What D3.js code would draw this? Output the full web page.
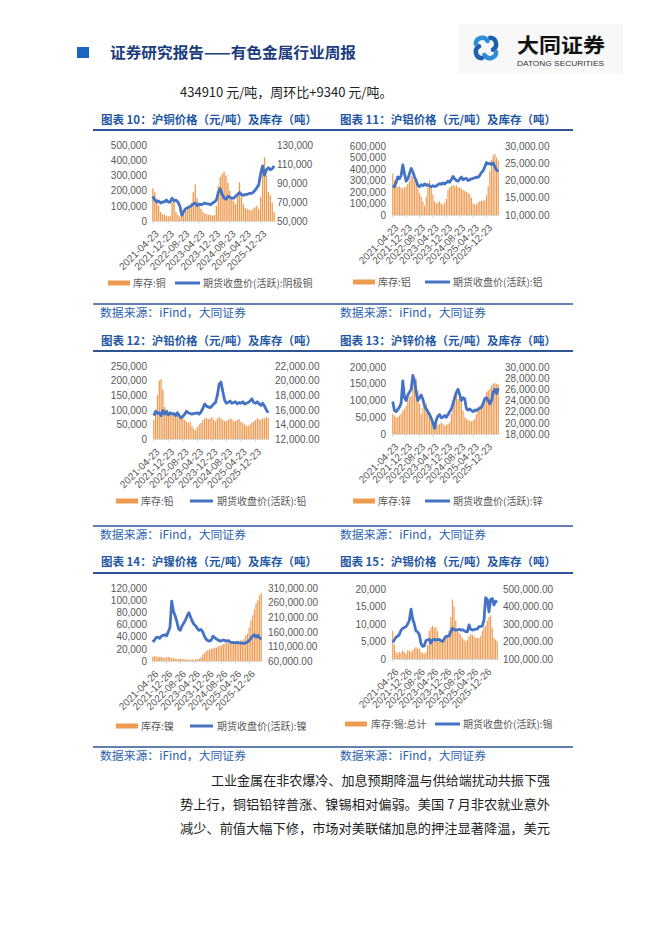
<!DOCTYPE html>
<html><head><meta charset="utf-8">
<script src="https://cdn.jsdelivr.net/npm/d3@7"></script>
<style>
body{margin:0;background:#fff;}
svg{display:block;font-family:"Noto Sans CJK SC","Noto Sans",sans-serif;}
</style></head><body>
<script>
// ---------- DATA ----------
const xLabelsA = ["2021-04-23","2021-12-23","2022-08-23","2023-04-23","2023-12-23","2024-08-23","2025-04-23","2025-12-23"];
const xLabelsB = ["2021-04-26","2021-12-26","2022-08-26","2023-04-26","2023-12-26","2024-08-26","2025-04-26","2025-12-26"];
const xTickIdx = [0,8,16,24,32,40,48,56];

// inventory in thousand tonnes, price in thousand yuan/tonne
const cuInv = [215,190,150,100,60,45,40,35,30,35, 120,130,60,40,30,30,45,70,80,100, 120,190,240,150,110,80,60,50,45,40, 40,35,40,100,230,290,310,325,300,250, 200,150,130,110,180,255,180,110,85,80, 75,70,80,90,100,80,160,330,420,300, 190,170,120,60];
const cuPrice = [76,72,70,71,69,70,70,72,70,70, 74,71,72,70,66,56,60,63,64,65, 66,68,69,66,68,67,68,69,68,68, 67,69,70,72,80,84,78,74,73,76, 75,74,74,76,78,80,78,77,78,78, 79,79,80,82,85,88,100,108,98,104, 106,104,105,108];
const cuInvTicks = [0,100,200,300,400,500];
const cuPriceTicks = [50,70,90,110,130];

const alInv = [360,300,250,240,250,240,230,240,250,270, 300,340,330,300,270,230,190,160,120,80, 160,260,300,260,180,120,100,110,120,100, 90,110,140,220,240,250,260,250,260,240, 240,230,220,210,200,190,180,150,100,90, 95,110,120,125,120,130,170,250,380,480, 520,530,500,470];
const alPrice = [18.5,18.2,19.5,21,20.5,21.5,24.5,22,19.8,20.5, 22,23.5,22.5,21,20,18.5,18.2,18.8,18.5,19, 18.6,18.8,18.4,18.2,18.5,18.3,18.4,18.8,19.1,18.9, 19.3,19,19.4,19.8,19.5,20.3,21.2,20.5,20.0,19.8, 20.4,21.0,20.2,20.5,20.6,20.0,20.2,20.5,20.6,20.8, 21.0,20.9,21.5,22.3,22.8,24.0,25.2,24.8,25.0,24.6, 25.1,24.0,23.0,22.6];
const alInvTicks = [0,100,200,300,400,500,600];
const alPriceTicks = [10,15,20,25,30];

const pbInv = [65,90,150,200,205,170,110,95,90,85, 80,85,80,78,75,72,70,65,60,55, 60,45,35,30,40,50,55,65,70,72, 68,70,75,65,60,70,75,70,65,62, 60,65,70,68,60,62,65,68,60,55, 50,45,45,50,55,60,65,70,68,65, 72,70,75,72];
const pbPrice = [15.2,15.8,15.5,15.6,15.2,15.9,15.4,15.8,15.3,15.6, 15.4,15.5,15.2,15.6,15.2,14.9,15.1,15.4,15.8,15.6, 15.5,15.4,15.5,15.5,15.6,15.4,15.7,16.2,16.8,16.5, 16.4,16.3,16.5,16.8,17.0,18.0,19.5,19.8,18.5,17.3, 16.9,17.0,17.2,16.9,17.0,17.1,16.8,17.0,16.9,17.1, 16.8,16.9,17.0,17.2,17.5,17.0,16.9,17.1,16.8,16.6, 16.9,16.5,16.0,15.6];
const pbInvTicks = [0,50,100,150,200,250];
const pbPriceTicks = [12,14,16,18,20,22];

const znInv = [60,55,50,50,55,60,70,75,85,100, 110,115,150,170,165,130,90,60,80,95, 90,70,50,40,35,30,25,28,30,35, 30,25,28,30,35,60,90,110,115,105, 110,95,70,50,45,42,40,38,40,45, 60,75,85,90,95,110,125,130,135,145, 150,152,150,148];
const znPrice = [23.8,22.2,22.0,22.4,22.8,23.5,27.5,24.5,24.0,25.0, 25.5,26.0,28.5,27.5,25.5,24.0,24.5,25.0,24.2,23.0, 22.5,22.0,21.5,20.8,20.0,19.0,20.5,21.2,21.5,20.9, 21.0,21.3,21.0,21.5,22.0,22.5,23.5,24.5,25.5,26.0, 25.0,24.0,24.5,24.3,22.5,22.3,22.5,22.2,22.0,22.3, 22.2,22.5,22.6,22.8,23.5,24.3,24.5,24.0,23.4,24.0, 25.5,26.0,25.2,26.2];
const znInvTicks = [0,50,100,150,200];
const znPriceTicks = [18,20,22,24,26,28,30];

const niInv = [7,8,7,7.5,6,7,6,5.5,6,7, 6,5,4.5,4,3.5,3,4,3.5,3,2.5, 3,2,2,2.5,2,3,3,4,6,10, 13,16,18,19,20,21,22,22,24,25, 26,28,29,30,29,30,31,30,32,33, 32,34,33,36,42,45,55,67,75,85, 95,100,108,112];
const niPrice = [125,132,140,142,138,145,148,150,146,160, 175,265,230,215,195,170,165,180,190,200, 215,225,210,195,185,180,170,165,168,160, 145,135,130,128,132,145,140,135,132,128, 130,132,130,128,130,125,124,123,122,124, 122,121,122,120,122,125,130,138,145,150, 142,148,140,135];
const niInvTicks = [0,20,40,60,80,100,120];
const niPriceTicks = [60,110,160,210,260,310];

const snInv = [8,4,2,1.5,2,1.8,2.5,2,1.5,2.5, 2.5,2,2.5,3,3.5,3,3,2,1.8,1.5, 2,4,8,9,9.5,9,9,8,6,5, 5,5.5,6,7,8,12,17,15,11,8, 7.5,7,6,5.5,5,5.5,6.5,7,7,6.5, 6,6,6,6.5,8,9,9.5,11,12,12.5, 9,6,5.5,5];
const snPrice = [195,210,225,230,240,265,275,280,285,300, 320,385,330,300,260,255,240,190,172,175, 205,210,212,191,210,212,208,210,212,205, 200,215,229,230,232,257,276,268,265,267, 270,265,268,262,257,255,295,270,265,268, 270,272,285,286,288,324,450,440,370,440, 446,409,430,425];
const snInvTicks = [0,5,10,15,20];
const snPriceTicks = [100,200,300,400,500];

const bodyLines = [
  "工业金属在非农爆冷、加息预期降温与供给端扰动共振下强",
  "势上行，铜铝铅锌普涨、镍锡相对偏弱。美国 7 月非农就业意外",
  "减少、前值大幅下修，市场对美联储加息的押注显著降温，美元"
];

// ---------- STYLE ----------
const ORANGE = "#EE9B52", BLUE = "#4472C4", NAVY = "#2F5597", GREY = "#595959";
const fmtInt = d => d3.format(",")(d * 1000);
const fmt2 = d => d3.format(",.2f")(d * 1000);

const W = 662, H = 936;
const svg = d3.select("body").append("svg").attr("width", W).attr("height", H);

// ---------- HEADER ----------
svg.append("rect").attr("x", 458).attr("y", 24).attr("width", 165).attr("height", 50).attr("fill", "#f8f8f8");
svg.append("rect").attr("x", 77).attr("y", 47).attr("width", 12).attr("height", 11).attr("fill", "#1868BE");
svg.append("text").attr("x", 110).attr("y", 58).attr("font-size", 15).attr("font-weight", 700)
  .attr("fill", "#1D3C7D").attr("textLength", 246).attr("lengthAdjust", "spacingAndGlyphs")
  .text("证券研究报告——有色金属行业周报");

// logo icon
const logo = svg.append("g").attr("transform", "translate(486,48)");
const arcG = d3.arc().innerRadius(4).outerRadius(8.5).cornerRadius(2);
[0, 1, 2, 3].forEach(k => {
  const a = k * Math.PI / 2;
  const ox = 5.5 * Math.cos(a - Math.PI / 4), oy = 5.5 * Math.sin(a - Math.PI / 4);
  logo.append("path")
    .attr("transform", `translate(${ox},${oy})`)
    .attr("d", arcG({ startAngle: a - 0.3, endAngle: a + Math.PI * 0.95 }))
    .attr("fill", k % 2 ? "#2C8FD6" : "#1E5FAE");
});
svg.append("text").attr("x", 517).attr("y", 53).attr("font-size", 20).attr("font-weight", 700)
  .attr("fill", "#111").attr("textLength", 88).attr("lengthAdjust", "spacingAndGlyphs").text("大同证券");
svg.append("text").attr("x", 517).attr("y", 66).attr("font-size", 7).attr("font-family", "Liberation Sans")
  .attr("fill", "#333").attr("textLength", 87).attr("lengthAdjust", "spacingAndGlyphs").text("DATONG SECURITIES");

svg.append("text").attr("x", 180).attr("y", 97).attr("font-size", 13).attr("fill", "#222")
  .text("434910 元/吨，周环比+9340 元/吨。");

// ---------- ROW FRAMES ----------
const rows = [
  { titleY: 120, ruleY: 130, srcRuleY: 304, srcY: 313 },
  { titleY: 341, ruleY: 351, srcRuleY: 526, srcY: 535 },
  { titleY: 562, ruleY: 573, srcRuleY: 747, srcY: 756 }
];
rows.forEach(r => {
  svg.append("line").attr("x1", 93).attr("x2", 573).attr("y1", r.ruleY).attr("y2", r.ruleY)
    .attr("stroke", NAVY).attr("stroke-width", 2);
  svg.append("line").attr("x1", 93).attr("x2", 573).attr("y1", r.srcRuleY).attr("y2", r.srcRuleY)
    .attr("stroke", NAVY).attr("stroke-width", 1.5);
  [100, 340].forEach(x => {
    svg.append("text").attr("x", x).attr("y", r.srcY).attr("dy", "0.35em").attr("font-size", 11.5)
      .attr("fill", "#2B5FAE").attr("textLength", 146).attr("lengthAdjust", "spacingAndGlyphs")
      .text("数据来源：iFind，大同证券");
  });
});

// ---------- CHARTS ----------
const charts = [
  { title: "图表 10：沪铜价格（元/吨）及库存（吨）", inv: cuInv, price: cuPrice, invTicks: cuInvTicks, priceTicks: cuPriceTicks,
    xLabels: xLabelsA, pf: fmtInt, invName: "库存:铜", priceName: "期货收盘价(活跃):阴极铜",
    row: 0, tx: 101, box: { l: 152, r: 275, t: 145, b: 221 }, lx: 147, rx: 277,
    leg: { y: 283, rect: 108, rectW: 22, t1: 133, line: 175, lineW: 25, t2: 203 } },
  { title: "图表 11：沪铝价格（元/吨）及库存（吨）", inv: alInv, price: alPrice, invTicks: alInvTicks, priceTicks: alPriceTicks,
    xLabels: xLabelsA, pf: fmt2, invName: "库存:铝", priceName: "期货收盘价(活跃):铝",
    row: 0, tx: 340, box: { l: 392, r: 499, t: 146, b: 215 }, lx: 386, rx: 505,
    leg: { y: 282, rect: 353, rectW: 22, t1: 378, line: 425, lineW: 25, t2: 453 } },
  { title: "图表 12：沪铅价格（元/吨）及库存（吨）", inv: pbInv, price: pbPrice, invTicks: pbInvTicks, priceTicks: pbPriceTicks,
    xLabels: xLabelsA, pf: fmt2, invName: "库存:铅", priceName: "期货收盘价(活跃):铅",
    row: 1, tx: 101, box: { l: 153, r: 269, t: 366, b: 439 }, lx: 147, rx: 275,
    leg: { y: 501, rect: 116, rectW: 22, t1: 141, line: 190, lineW: 23, t2: 217 } },
  { title: "图表 13：沪锌价格（元/吨）及库存（吨）", inv: znInv, price: znPrice, invTicks: znInvTicks, priceTicks: znPriceTicks,
    xLabels: xLabelsA, pf: fmt2, invName: "库存:锌", priceName: "期货收盘价(活跃):锌",
    row: 1, tx: 340, box: { l: 392, r: 499, t: 367, b: 434 }, lx: 386, rx: 505,
    leg: { y: 501, rect: 353, rectW: 22, t1: 378, line: 425, lineW: 25, t2: 453 } },
  { title: "图表 14：沪镍价格（元/吨）及库存（吨）", inv: niInv, price: niPrice, invTicks: niInvTicks, priceTicks: niPriceTicks,
    xLabels: xLabelsB, pf: fmt2, invName: "库存:镍", priceName: "期货收盘价(活跃):镍",
    row: 2, tx: 101, box: { l: 152, r: 262, t: 588, b: 661 }, lx: 147, rx: 268,
    leg: { y: 726, rect: 116, rectW: 22, t1: 141, line: 190, lineW: 23, t2: 217 } },
  { title: "图表 15：沪锡价格（元/吨）及库存（吨）", inv: snInv, price: snPrice, invTicks: snInvTicks, priceTicks: snPriceTicks,
    xLabels: xLabelsB, pf: fmt2, invName: "库存:锡:总计", priceName: "期货收盘价(活跃):锡",
    row: 2, tx: 340, box: { l: 392, r: 498, t: 589, b: 659 }, lx: 386, rx: 503,
    leg: { y: 724, rect: 345, rectW: 22, t1: 371, line: 435, lineW: 25, t2: 463 } }
];

function styleAxisText(sel) {
  sel.selectAll("text").attr("font-family", "'Liberation Sans', Arial, sans-serif")
    .attr("font-size", 10).attr("fill", GREY);
}

charts.forEach(c => {
  const g = svg.append("g");
  const r = rows[c.row];
  g.append("text").attr("x", c.tx).attr("y", r.titleY).attr("dy", "0.35em")
    .attr("font-size", 11.5).attr("font-weight", 700).attr("fill", "#1F57A4")
    .attr("textLength", 216).attr("lengthAdjust", "spacingAndGlyphs").text(c.title);

  const b = c.box;
  const x = d3.scaleBand().domain(d3.range(c.inv.length)).range([b.l, b.r]).paddingInner(0.3).paddingOuter(0.1);
  const yL = d3.scaleLinear().domain(d3.extent(c.invTicks)).range([b.b, b.t]);
  const yR = d3.scaleLinear().domain(d3.extent(c.priceTicks)).range([b.b, b.t]);

  // x axis
  const ax = g.append("g").attr("transform", `translate(0,${b.b})`)
    .call(d3.axisBottom(x).tickValues(xTickIdx).tickFormat((d, i) => c.xLabels[i]).tickSizeInner(3).tickSizeOuter(0));
  ax.select(".domain").attr("stroke", "#D9D9D9");
  ax.selectAll(".tick line").attr("stroke", "#D9D9D9");
  styleAxisText(ax);
  ax.selectAll("text").attr("y", 0).attr("dy", "0.35em").attr("text-anchor", "end")
    .attr("transform", "translate(4,11) rotate(-45)");

  // bars
  g.append("g").selectAll("rect").data(c.inv).join("rect")
    .attr("x", (d, i) => x(i)).attr("width", x.bandwidth())
    .attr("y", d => yL(d)).attr("height", d => yL(0) - yL(d)).attr("fill", ORANGE);

  // line
  const line = d3.line().x((d, i) => x(i) + x.bandwidth() / 2).y(d => yR(d));
  g.append("path").datum(c.price).attr("d", line).attr("fill", "none")
    .attr("stroke", BLUE).attr("stroke-width", 2.8).attr("stroke-linejoin", "round");

  // left axis
  const al = g.append("g").attr("transform", `translate(${b.l},0)`)
    .call(d3.axisLeft(yL).tickValues(c.invTicks).tickFormat(fmtInt).tickSize(0).tickPadding(b.l - c.lx));
  al.select(".domain").remove();
  styleAxisText(al);

  // right axis
  const ar = g.append("g").attr("transform", `translate(${b.r},0)`)
    .call(d3.axisRight(yR).tickValues(c.priceTicks).tickFormat(c.pf).tickSize(0).tickPadding(c.rx - b.r));
  ar.select(".domain").remove();
  styleAxisText(ar);

  // legend
  const L = c.leg;
  g.append("rect").attr("x", L.rect).attr("y", L.y - 2.5).attr("width", L.rectW).attr("height", 5).attr("fill", ORANGE);
  g.append("text").attr("x", L.t1).attr("y", L.y).attr("dy", "0.35em").attr("font-size", 10).attr("fill", GREY).text(c.invName);
  g.append("line").attr("x1", L.line).attr("x2", L.line + L.lineW).attr("y1", L.y).attr("y2", L.y)
    .attr("stroke", BLUE).attr("stroke-width", 3);
  g.append("text").attr("x", L.t2).attr("y", L.y).attr("dy", "0.35em").attr("font-size", 10).attr("fill", GREY).text(c.priceName);
});

// ---------- BODY TEXT ----------
const bodyPos = [{ x: 211, y: 780, len: 339 }, { x: 180, y: 804, len: 370 }, { x: 180, y: 828, len: 370 }];
bodyLines.forEach((t, i) => {
  svg.append("text").attr("x", bodyPos[i].x).attr("y", bodyPos[i].y).attr("dy", "0.35em")
    .attr("font-size", 13).attr("fill", "#222")
    .attr("textLength", bodyPos[i].len).attr("lengthAdjust", "spacingAndGlyphs").text(t);
});
</script>
</body></html>
